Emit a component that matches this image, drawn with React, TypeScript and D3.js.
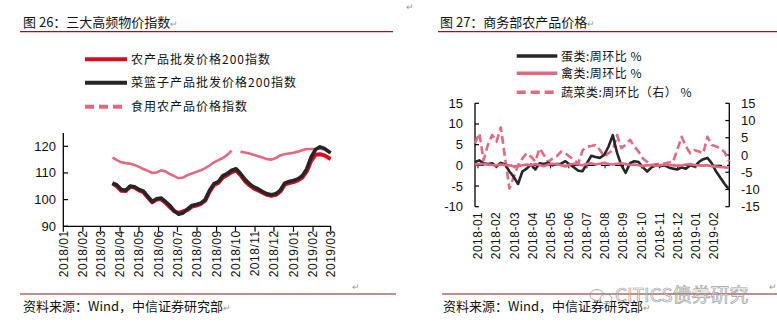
import React from "react";
import * as d3 from "d3";

// ---------- Left chart data (图 26) ----------
const leftDates = [
  "2018-03-20","2018-03-27","2018-04-03","2018-04-10","2018-04-17","2018-04-24","2018-05-01","2018-05-08","2018-05-15","2018-05-22",
  "2018-05-29","2018-06-05","2018-06-12","2018-06-19","2018-06-26","2018-07-03","2018-07-10","2018-07-17","2018-07-24","2018-07-31",
  "2018-08-07","2018-08-14","2018-08-21","2018-08-28","2018-09-04","2018-09-11","2018-09-18","2018-09-25","2018-10-02","2018-10-09",
  "2018-10-16","2018-10-23","2018-10-30","2018-11-06","2018-11-13","2018-11-20","2018-11-27","2018-12-04","2018-12-11","2018-12-18",
  "2018-12-25","2019-01-01","2019-01-08","2019-01-15","2019-01-22","2019-01-29","2019-02-05","2019-02-12","2019-02-19","2019-02-26",
  "2019-03-01",
];
const agri200 = [
  106.0,105.0,103.3,103.2,104.8,104.5,103.5,102.8,100.8,99.0,
  100.0,100.2,98.8,97.2,95.6,95.0,95.6,96.2,97.4,97.8,
  98.4,99.6,103.0,105.5,106.3,108.3,109.2,110.3,111.0,109.2,
  107.0,105.4,104.2,103.4,102.6,101.8,101.4,101.8,103.0,105.6,
  106.2,106.6,107.2,108.3,110.6,114.6,116.8,117.0,116.6,115.6,
  115.3,
];
const basket200 = [
  106.3,105.5,103.8,103.5,105.1,104.8,103.8,103.2,101.2,99.3,
  100.3,100.6,99.3,97.8,95.8,94.5,95.0,96.5,97.8,98.2,
  98.7,100.0,103.5,106.0,106.8,109.0,109.8,111.0,111.6,109.8,
  107.6,106.0,104.8,104.0,103.0,102.2,101.8,102.2,103.5,106.2,
  106.8,107.2,107.8,109.0,111.5,116.0,118.8,119.8,119.2,118.0,
  117.6,
];
const edibleAgri: (number | null)[] = [
  115.8,114.8,114.0,113.7,113.5,113.0,112.3,111.5,110.8,110.0,
  110.2,111.0,110.6,109.6,108.8,108.0,108.3,109.2,109.8,110.4,
  111.0,111.8,112.8,114.0,114.8,115.6,116.8,118.4,null,118.0,
  117.7,117.3,116.8,116.3,115.8,115.2,115.0,115.6,116.6,117.0,
  117.3,117.6,118.0,118.5,119.0,119.0,119.0,119.2,118.8,117.8,
  117.4,
];
const leftMonths = [
  "2018/01","2018/02","2018/03","2018/04","2018/05","2018/06","2018/07","2018/08",
  "2018/09","2018/10","2018/11","2018/12","2019/01","2019/02","2019/03",
];
const leftYTicks = [90, 100, 110, 120];
const leftLegend = ["农产品批发价格200指数", "菜篮子产品批发价格200指数", "食用农产品价格指数"];

// ---------- Right chart data (图 27) ----------
const eggWoW = [
  0.8,1.2,0.5,0.3,0.5,-0.3,0.6,0.2,-1.5,-2.8,
  -4.5,-1.5,-0.8,0.2,-1.0,0.5,0.3,0.6,0.0,0.3,
  0.4,1.0,0.2,-0.5,-1.3,-1.4,0.5,2.3,2.0,1.8,
  2.5,4.5,7.3,3.0,0.0,-1.8,0.5,1.0,0.8,-0.5,
  -1.5,-0.5,0.0,-0.2,0.0,-0.5,-0.8,-1.0,-0.5,-0.8,
  0.0,-0.3,0.8,1.5,1.8,0.5,-1.5,-3.0,-4.5,-5.8,
];
const poultryWoW = [
  0.2,0.3,0.3,0.2,0.1,0.0,0.2,0.1,0.0,-0.3,
  -0.2,0.0,0.2,0.0,0.3,0.1,-0.2,0.2,0.4,0.3,
  0.0,-0.3,0.2,0.4,0.2,0.0,0.3,0.5,0.2,0.4,
  0.6,0.3,0.2,0.4,0.5,0.3,0.1,0.2,0.0,-0.2,
  0.0,0.1,-0.1,0.0,0.2,0.1,0.0,-0.1,0.0,0.2,
  0.3,0.1,0.0,-0.1,0.0,-0.2,-0.3,-0.4,-0.5,-0.6,
];
const vegWoW = [
  3.4,6.3,-1.5,3.0,5.8,3.9,8.0,-1.0,-9.7,-6.3,
  -3.0,-1.0,0.5,-0.5,-1.9,1.9,0.0,-2.0,-1.0,-0.3,
  1.0,0.5,-0.5,-1.5,-2.4,1.4,2.4,2.6,2.9,1.5,
  -0.5,0.5,1.4,5.8,2.0,3.0,4.4,2.5,1.0,-1.0,
  -2.0,-2.9,-2.7,-2.5,-2.5,-2.2,-2.0,1.5,5.3,2.5,
  0.5,1.4,1.0,0.5,5.3,2.9,2.5,1.9,0.8,-1.9,
];
const rightMonths = [
  "2018-01","2018-02","2018-03","2018-04","2018-05","2018-06","2018-07",
  "2018-08","2018-09","2018-10","2018-11","2018-12","2019-01","2019-02",
];
const rightLeftTicks = [-10, -5, 0, 5, 10, 15];
const rightRightTicks = [-15, -10, -5, 0, 5, 10, 15];
const rightLegend = ["蛋类:周环比 %", "禽类:周环比 %", "蔬菜类:周环比（右） %"];

const RED = "#DA0B1E";
const BLACK = "#262626";
const PINK = "#E2697F";
const RULE = "#8E1B1F";
const NUM_FONT = "'Liberation Sans', Arial, sans-serif";
const CJK_FONT = "'Noto Sans CJK SC', 'Liberation Sans', sans-serif";

export default function App() {
  // ----- left scales -----
  const parse = d3.timeParse("%Y-%m-%d");
  const lx = d3.scaleTime().domain([new Date(2018, 0, 1), new Date(2019, 2, 1)]).range([63.3, 330.7]);
  const ly = d3.scaleLinear().domain([90, 120]).range([226.3, 146.3]);
  const ldates = leftDates.map((s) => parse(s) as Date);
  const lline = d3
    .line<number | null>()
    .defined((d) => d != null)
    .x((_, i) => lx(ldates[i]))
    .y((d) => ly(d as number))
    .curve(d3.curveLinear);
  const monthDates = leftMonths.map((m) => d3.timeParse("%Y/%m")(m) as Date);

  // ----- right scales -----
  const rx = d3.scaleLinear().domain([0, eggWoW.length - 1]).range([475, 729]);
  const ryL = d3.scaleLinear().domain([-10, 15]).range([206.7, 103.3]);
  const ryR = d3.scaleLinear().domain([-15, 15]).range([206.7, 103.3]);
  const rlabel = d3.scalePoint<string>().domain(rightMonths).range([478, 714]);
  const rLineL = d3.line<number>().x((_, i) => rx(i)).y((d) => ryL(d));
  const rLineR = d3.line<number>().x((_, i) => rx(i)).y((d) => ryR(d));

  const leftLegendStyles = [
    { color: RED, dash: undefined },
    { color: BLACK, dash: undefined },
    { color: PINK, dash: "9,5" },
  ];
  const rightLegendStyles = [
    { color: BLACK, dash: undefined },
    { color: PINK, dash: undefined },
    { color: PINK, dash: "9,5" },
  ];
  const leftLegendY = [59.3, 82.7, 106.7];
  const rightLegendY = [56, 73.3, 92.3];

  return (
    <svg
      width={777}
      height={331}
      style={{ position: "absolute", left: 0, top: 0, background: "#fff" }}
      xmlns="http://www.w3.org/2000/svg"
    >
      <rect x={0} y={0} width={777} height={331} fill="#fff" />
      {/* paragraph marks */}
      <text x={406} y={10} fontSize={9} fill="#999" fontFamily={CJK_FONT}>↵</text>
      <text x={352} y={290} fontSize={9} fill="#999" fontFamily={CJK_FONT}>↵</text>
      <text x={769} y={290} fontSize={9} fill="#999" fontFamily={CJK_FONT}>↵</text>

      {/* ===== Titles ===== */}
      <text x={23} y={27} fontSize={13} fontFamily={CJK_FONT} fill="#111">
        图 26：三大高频物价指数<tspan fontSize={9} fill="#999">↵</tspan>
      </text>
      <line x1={20} x2={393} y1={31.7} y2={31.7} stroke={RULE} strokeWidth={1.2} />
      <text x={440} y={27} fontSize={13} fontFamily={CJK_FONT} fill="#111">
        图 27：商务部农产品价格<tspan fontSize={9} fill="#999">↵</tspan>
      </text>
      <line x1={438} x2={777} y1={31.7} y2={31.7} stroke={RULE} strokeWidth={1.2} />

      {/* ===== Left chart ===== */}
      {leftLegend.map((name, i) => (
        <g key={name}>
          <line
            x1={85}
            x2={127}
            y1={leftLegendY[i]}
            y2={leftLegendY[i]}
            stroke={leftLegendStyles[i].color}
            strokeWidth={4}
            strokeDasharray={leftLegendStyles[i].dash}
          />
          <text x={131} y={leftLegendY[i] + 4.5} fontSize={12} fontFamily={CJK_FONT} fill="#111" letterSpacing={1}>
            {name}
          </text>
        </g>
      ))}
      {/* axes */}
      <line x1={63.3} x2={63.3} y1={ly(125)} y2={ly(90)} stroke="#000" strokeWidth={1.3} />
      <line x1={63.3} x2={331} y1={ly(90)} y2={ly(90)} stroke="#000" strokeWidth={1.3} />
      {leftYTicks.map((t) => (
        <g key={t}>
          <line x1={63.3} x2={68} y1={ly(t)} y2={ly(t)} stroke="#000" strokeWidth={1.2} />
          <text x={56} y={ly(t) + 4.5} fontSize={13} textAnchor="end" fontFamily={NUM_FONT} fill="#111">
            {t}
          </text>
        </g>
      ))}
      {monthDates.map((d, i) => (
        <g key={leftMonths[i]}>
          <line x1={lx(d)} x2={lx(d)} y1={ly(90)} y2={ly(90) + 5.5} stroke="#000" strokeWidth={1.2} />
          <text
            transform={`translate(${lx(d)},${ly(90) + 4}) rotate(-90)`}
            textAnchor="end"
            dy="0.35em"
            fontSize={12}
            fontFamily={NUM_FONT}
            fill="#111"
            letterSpacing={0.5}
          >
            {leftMonths[i]}
          </text>
        </g>
      ))}
      {/* lines */}
      <path d={lline(edibleAgri) || ""} fill="none" stroke={PINK} strokeWidth={2.6} strokeLinejoin="round" />
      <path d={lline(agri200) || ""} fill="none" stroke={RED} strokeWidth={4} strokeLinejoin="round" />
      <path d={lline(basket200) || ""} fill="none" stroke={BLACK} strokeWidth={3.6} strokeLinejoin="round" />

      {/* ===== Right chart ===== */}
      {rightLegend.map((name, i) => (
        <g key={name}>
          <line
            x1={516.7}
            x2={557.3}
            y1={rightLegendY[i]}
            y2={rightLegendY[i]}
            stroke={rightLegendStyles[i].color}
            strokeWidth={3.5}
            strokeDasharray={rightLegendStyles[i].dash}
          />
          <text x={561} y={rightLegendY[i] + 4.5} fontSize={12} fontFamily={CJK_FONT} fill="#111" letterSpacing={0.5}>
            {name}
          </text>
        </g>
      ))}
      <line x1={475} x2={475} y1={ryL(15)} y2={ryL(-10)} stroke="#000" strokeWidth={1.3} />
      <line x1={729.3} x2={729.3} y1={ryR(15)} y2={ryR(-15)} stroke="#000" strokeWidth={1.3} />
      {rightLeftTicks.map((t) => (
        <g key={"l" + t}>
          <line x1={475} x2={479} y1={ryL(t)} y2={ryL(t)} stroke="#000" strokeWidth={1.2} />
          <text x={463} y={ryL(t) + 4.5} fontSize={13} textAnchor="end" fontFamily={NUM_FONT} fill="#111">
            {t}
          </text>
        </g>
      ))}
      {rightRightTicks.map((t) => (
        <g key={"r" + t}>
          <line x1={725.3} x2={729.3} y1={ryR(t)} y2={ryR(t)} stroke="#000" strokeWidth={1.2} />
          <text x={741} y={ryR(t) + 4.5} fontSize={13} textAnchor="start" fontFamily={NUM_FONT} fill="#111">
            {t}
          </text>
        </g>
      ))}
      {/* zero line */}
      <line x1={475} x2={729.3} y1={ryL(0)} y2={ryL(0)} stroke="#000" strokeWidth={1.3} strokeDasharray="9,5" />
      {rightMonths.map((m) => (
        <g key={m}>
          <line x1={rlabel(m)!} x2={rlabel(m)!} y1={ryL(0)} y2={ryL(0) + 3} stroke="#000" strokeWidth={1} />
          <text
            transform={`translate(${rlabel(m)},${ryL(-10) + 5}) rotate(-90)`}
            textAnchor="end"
            dy="0.35em"
            fontSize={12}
            fontFamily={NUM_FONT}
            fill="#111"
            letterSpacing={0.5}
          >
            {m}
          </text>
        </g>
      ))}
      <path d={rLineR(vegWoW) || ""} fill="none" stroke={PINK} strokeWidth={2.6} strokeDasharray="8,4" strokeLinejoin="round" />
      <path d={rLineL(eggWoW) || ""} fill="none" stroke={BLACK} strokeWidth={2.6} strokeLinejoin="round" />
      <path d={rLineL(poultryWoW) || ""} fill="none" stroke={PINK} strokeWidth={2.6} strokeLinejoin="round" />

      {/* ===== Footers ===== */}
      <line x1={20} x2={396} y1={294} y2={294} stroke={RULE} strokeWidth={1.2} />
      <line x1={442} x2={777} y1={294} y2={294} stroke={RULE} strokeWidth={1.2} />
      <text x={23} y={311} fontSize={13} fontFamily={CJK_FONT} fill="#111">
        资料来源：Wind，中信证券研究部<tspan fontSize={9} fill="#999">↵</tspan>
      </text>
      <text x={443} y={311} fontSize={13} fontFamily={CJK_FONT} fill="#111">
        资料来源：Wind，中信证券研究部<tspan fontSize={9} fill="#999">↵</tspan>
      </text>
      {/* watermark */}
      <g opacity={0.8}>
        <ellipse cx={597} cy={295} rx={7} ry={5.5} fill="none" stroke="#999" strokeWidth={1} />
        <ellipse cx={606} cy={299} rx={6} ry={4.8} fill="#fff" fillOpacity={0.6} stroke="#999" strokeWidth={1} />
        <text x={615} y={302} fontSize={19} fontFamily={CJK_FONT} fill="#fff" fillOpacity={0.6} stroke="#888" strokeWidth={0.7}>
          CITICS债券研究
        </text>
      </g>
    </svg>
  );
}
